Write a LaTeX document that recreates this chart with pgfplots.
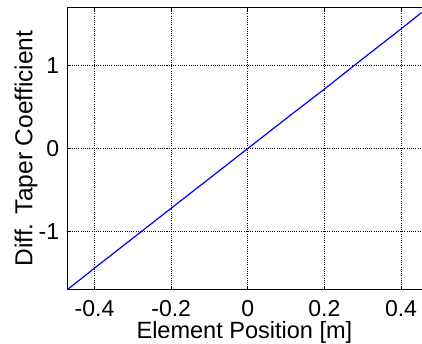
\documentclass[border=0pt]{standalone}
\usepackage{fontspec}
\setmainfont{Liberation Sans}
\usepackage{pgfplots}
\pgfplotsset{compat=1.18}
\begin{document}
\begin{tikzpicture}
\begin{axis}[
  scale only axis,
  width=353.7pt, height=282pt,
  xmin=-0.471, xmax=0.4535,
  ymin=-1.7, ymax=1.7,
  axis x line*=box,
  axis y line*=left,
  axis line style={-, line width=1.1pt, black},
  xtick={-0.4,-0.2,0,0.2,0.4},
  xticklabels={-0.4,-0.2,0,0.2,0.4},
  ytick={-1,0,1},
  yticklabels={-1,0,1},
  tick align=inside,
  major tick length=4pt,
  tick style={black, line width=0.8pt},
  xtick pos=both,
  grid=major,
  major grid style={black, line width=0.6pt, dash pattern=on 1pt off 1.2pt},
  tick label style={font=\fontsize{23}{26}\selectfont},
  xticklabel style={inner sep=0pt, anchor=north, yshift=-11pt},
  yticklabel style={inner sep=0pt, anchor=east, xshift=-8pt},
  xlabel={Element Position [m]},
  ylabel={Diff. Taper Coefficient},
  label style={font=\fontsize{23.5}{27}\selectfont},
  xlabel style={at={(axis description cs:0.5,0)}, anchor=base, yshift=-49pt, inner sep=0pt},
  ylabel style={font=\fontsize{24.5}{28}\selectfont, at={([xshift=-35pt]axis description cs:0,0.5)}, anchor=base, inner sep=0pt},
]
\addplot[blue, line width=1.2pt] coordinates {
(-0.471,-1.70) (-0.4,-1.44) (-0.3,-1.08) (-0.2,-0.72) (-0.1,-0.36) (0,0)
(0.1,0.36) (0.2,0.715) (0.3,1.08) (0.4,1.44) (0.471,1.70)
};
\end{axis}
\pgfresetboundingbox
\path ([shift={(-67.3pt,-53.7pt)}]current axis.south west) rectangle ([shift={(0.5pt,7.3pt)}]current axis.north east);
\end{tikzpicture}
\end{document}
